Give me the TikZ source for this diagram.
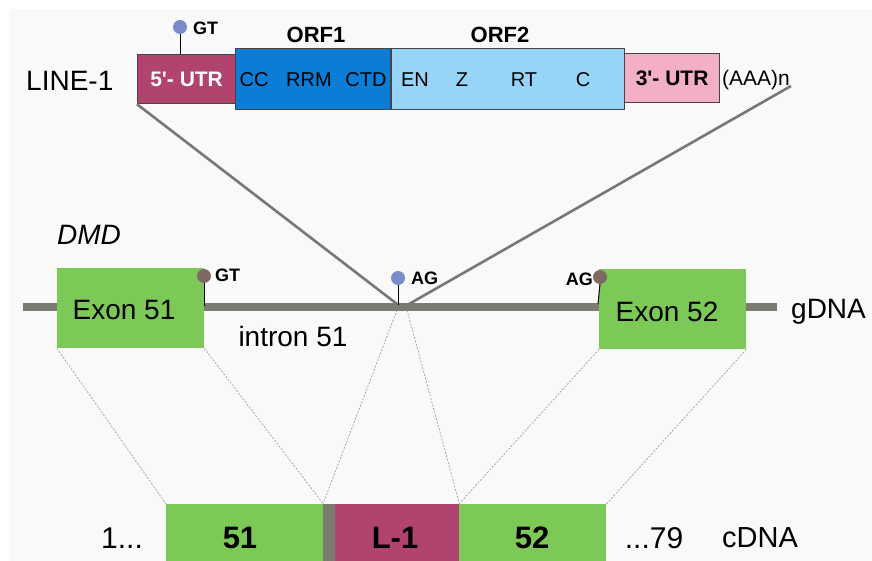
\documentclass[tikz,border=0pt]{standalone}
\usepackage{fontspec}
\setmainfont{Liberation Sans}
\definecolor{panel}{HTML}{F9F9F9}
\definecolor{utrfive}{HTML}{B0446F}
\definecolor{orfone}{HTML}{0B7DD7}
\definecolor{orftwo}{HTML}{96D5F8}
\definecolor{utrthree}{HTML}{F4AFC8}
\definecolor{exon}{HTML}{7DC957}
\definecolor{band}{HTML}{7B7B6F}
\definecolor{brownpin}{HTML}{7F6A63}
\definecolor{bluepin}{HTML}{7A8BCB}
\definecolor{boxline}{HTML}{454545}
\definecolor{insline}{HTML}{777777}
\newcommand{\fs}[1]{\fontsize{#1}{#1}\selectfont}
\begin{document}
\begin{tikzpicture}[x=1pt,y=-1pt,
  seg/.style={draw=boxline, line width=1.2pt, inner sep=0pt, anchor=north west},
  exonbox/.style={fill=exon, inner sep=0pt, anchor=north west, minimum width=147pt, minimum height=80pt},
  cbox/.style={inner sep=0pt, anchor=north west, minimum height=58pt},
  txt/.style={inner sep=0pt, font=\fs{20}},
  big/.style={inner sep=0pt, font=\fs{28}},
  tag/.style={inner sep=0pt, font=\fs{18}\bfseries},
  pinhead/.style={circle, inner sep=0pt, minimum size=14pt},
  stem/.style={draw=black, line width=1pt},
  insert/.style={draw=insline, line width=2.6pt},
  dotline/.style={draw=gray!75, line width=0.7pt, dash pattern=on 2pt off 1.5pt},
  ctext/.style={inner sep=0pt, font=\fs{30}},
  cbold/.style={inner sep=0pt, font=\fs{31}\bfseries}]
\useasboundingbox (0,0) rectangle (872,561);
\fill[white] (0,0) rectangle (872,561);
\fill[panel] (9,9) rectangle (872,561);

% ---- LINE-1 ----
\node[big, anchor=west] (line1) at (26,81) {LINE-1};
\node[seg, fill=utrfive, minimum width=98pt, minimum height=49pt, text=white, font=\fs{21}\bfseries] (utr5) at (137,54) {5\textquotesingle- UTR};
\node[seg, fill=orfone, minimum width=155pt, minimum height=61pt] (orf1) at (235,48) {};
\node[seg, fill=orftwo, minimum width=233pt, minimum height=61pt] (orf2) at (391,48) {};
\node[seg, fill=utrthree, minimum width=95pt, minimum height=49pt, font=\fs{21}\bfseries] (utr3) at (624,53) {3\textquotesingle- UTR};
\node[txt, font=\fs{21}, anchor=west] (polya) at (722,80) {(AAA)n};
\node[inner sep=0pt, font=\fs{22}\bfseries] (orf1lab) at (316,35) {ORF1};
\node[inner sep=0pt, font=\fs{22}\bfseries] (orf2lab) at (500,35) {ORF2};
\node[txt] (cc) at (254,80) {CC};
\node[txt] (rrm) at (309,80) {RRM};
\node[txt] (ctd) at (366,80) {CTD};
\node[txt] (en) at (415,80) {EN};
\node[txt] (z) at (462,80) {Z};
\node[txt] (rt) at (524,80) {RT};
\node[txt] (c) at (583,80) {C};
\node[pinhead, fill=bluepin] (gt1) at (180,27) {};
\draw[stem] (gt1.south) -- (gt1.south |- utr5.north);
\node[tag, anchor=west] (gt1lab) at (193,28) {GT};

% ---- gDNA ----
\node[big, font=\fs{28}\itshape, anchor=west] (dmd) at (57,235) {DMD};
\coordinate (gL) at (23,307);
\coordinate (gR) at (777,307);
\draw[draw=band, line width=8pt] (gL) -- (gR);
\node[exonbox] (ex51) at (57,268) {};
\node[exonbox] (ex52) at (599,269) {};
\node[big] (ex51lab) at (124,310) {Exon 51};
\node[big] (ex52lab) at (667,312) {Exon 52};
\node[big] (intron) at (293,336) {intron 51};
\node[big, anchor=west] (gdna) at (791,312) {gDNA};

\node[pinhead, fill=brownpin] (gt2) at (204,276) {};
\draw[stem] (gt2.south) -- (204,306);
\node[tag, anchor=west] (gt2lab) at (215,275) {GT};
\node[pinhead, fill=bluepin] (ag1) at (398,278) {};
\draw[stem] (ag1.south) -- (398,305);
\node[tag, anchor=west] (ag1lab) at (411,278) {AG};
\node[pinhead, fill=brownpin] (ag2) at (600,277) {};
\draw[stem] (ag2.south) -- (598,304);
\node[tag, anchor=east] (ag2lab) at (593,279) {AG};

% insertion lines
\coordinate (ins1) at (397,304);
\coordinate (ins2) at (409,304);
\coordinate (polyend) at (791,86);
\draw[insert] (utr5.south west) -- (ins1);
\draw[insert] (polyend) -- (ins2);

% ---- cDNA ----
\node[cbox, fill=exon, minimum width=157pt] (c51) at (166,504) {};
\node[cbox, fill=band, minimum width=12pt] (cgap) at (323,504) {};
\node[cbox, fill=utrfive, minimum width=124pt] (cl1) at (335,504) {};
\node[cbox, fill=exon, minimum width=147pt] (c52) at (459,504) {};
\node[cbold] (c51lab) at (240,538) {51};
\node[cbold] (cl1lab) at (395,538) {L-1};
\node[cbold] (c52lab) at (532,538) {52};
\node[ctext] (one) at (122,538) {1...};
\node[ctext] (seventynine) at (654,538) {...79};
\node[ctext, font=\fs{29}] (cdna) at (760,538) {cDNA};

\coordinate (dA) at (397,310);
\coordinate (dB) at (407,310);
\draw[dotline] (ex51.south west) -- (c51.north west);
\draw[dotline] (ex51.south east) -- (c51.north east);
\draw[dotline] (dA) -- (cgap.north west);
\draw[dotline] (dB) -- (cl1.north east);
\draw[dotline] (ex52.south west) -- (c52.north west);
\draw[dotline] (ex52.south east) -- (c52.north east);
\end{tikzpicture}
\end{document}
